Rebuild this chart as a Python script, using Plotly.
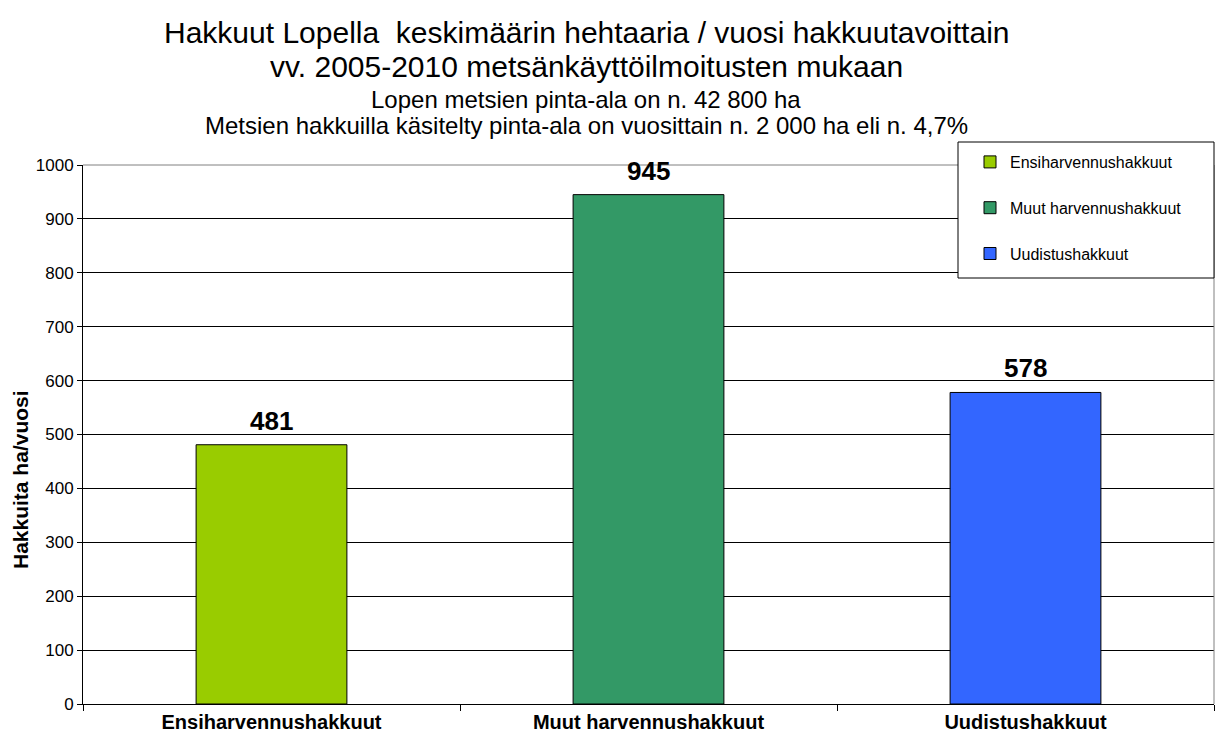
import plotly.graph_objects as go

categories = ["Ensiharvennushakkuut", "Muut harvennushakkuut", "Uudistushakkuut"]
values = [481, 945, 578]
colors = ["#99CC00", "#339966", "#3366FF"]
y_ticks = list(range(0, 1001, 100))

title_lines = [
    "Hakkuut Lopella  keskimäärin hehtaaria / vuosi hakkuutavoittain",
    "vv. 2005-2010 metsänkäyttöilmoitusten mukaan",
    "Lopen metsien pinta-ala on n. 42 800 ha",
    "Metsien hakkuilla käsitelty pinta-ala on vuosittain n. 2 000 ha eli n. 4,7%",
]

FONT = "Liberation Sans, Arial, sans-serif"

# plot area in page pixels (the page body adds an 8px offset)
PL, PR, PT, PB = 83, 1214, 165, 704
PW, PH = PR - PL, PB - PT


def px(x):
    return (x - PL) / PW


def py(y):
    return (PB - y) / PH


fig = go.Figure()

# one trace per category so each gets its own legend entry
for i, (cat, val) in enumerate(zip(categories, values)):
    fig.add_trace(go.Bar(
        x=[cat], y=[val], name=cat,
        marker=dict(color=colors[i], line=dict(color="black", width=1)),
        width=0.4,
        legendgroup=cat,
        hoverinfo="x+y",
    ))
    # value label above the bar
    fig.add_annotation(x=cat, y=val, text="<b>%d</b>" % val,
                       showarrow=False, yanchor="bottom", yshift=7,
                       font=dict(size=26, color="black", family=FONT))

# title lines
title_y = [32, 66, 99, 125]
title_size = [30, 30, 24, 24]
for txt, ypx, sz in zip(title_lines, title_y, title_size):
    fig.add_annotation(text=txt, xref="paper", yref="paper",
                       x=px(586), y=py(ypx),
                       showarrow=False, xanchor="center", yanchor="middle",
                       font=dict(size=sz, color="black", family=FONT))

# y axis title
fig.add_annotation(text="<b>Hakkuita ha/vuosi</b>", xref="paper", yref="paper",
                   x=px(20), y=py(480), textangle=-90,
                   showarrow=False, xanchor="center", yanchor="middle",
                   font=dict(size=21, color="black", family=FONT))

# plot area border (grey top & right), legend box
fig.add_shape(type="line", xref="paper", yref="paper", x0=0, x1=1, y0=1, y1=1,
              line=dict(color="#808080", width=1), layer="above")
fig.add_shape(type="line", xref="paper", yref="paper", x0=1, x1=1, y0=0, y1=1,
              line=dict(color="#808080", width=1), layer="above")
fig.add_shape(type="rect", xref="paper", yref="paper",
              x0=px(958), x1=px(1214), y0=py(278), y1=py(142),
              line=dict(color="black", width=1), fillcolor="white", layer="above")

fig.update_layout(
    width=1215, height=739,
    margin=dict(l=PL - 8, r=1223 - PR, t=PT - 8, b=739 + 8 - PB),
    paper_bgcolor="white", plot_bgcolor="white",
    barmode="overlay",
    font=dict(family=FONT, color="black"),
    showlegend=True,
    legend=dict(
        x=px(970), y=py(145), xanchor="left", yanchor="top",
        bgcolor="rgba(0,0,0,0)", borderwidth=0,
        font=dict(size=16, color="black", family=FONT),
        traceorder="grouped", tracegroupgap=22,
        itemwidth=30,
    ),
    xaxis=dict(
        categoryorder="array", categoryarray=categories,
        tickson="boundaries", ticks="outside", ticklen=6, tickcolor="black",
        showline=True, linecolor="black", linewidth=1,
        tickfont=dict(size=20, color="black", family=FONT),
        tickprefix="<b>", ticksuffix="</b>",
        showgrid=False, fixedrange=True,
    ),
    yaxis=dict(
        range=[0, 1000], tickvals=y_ticks,
        ticks="outside", ticklen=5, tickcolor="black",
        showline=True, linecolor="black", linewidth=1,
        showgrid=True, gridcolor="black", gridwidth=1,
        tickfont=dict(size=17, color="black", family=FONT),
        zeroline=False, fixedrange=True,
    ),
)

fig.write_html("out.html")
